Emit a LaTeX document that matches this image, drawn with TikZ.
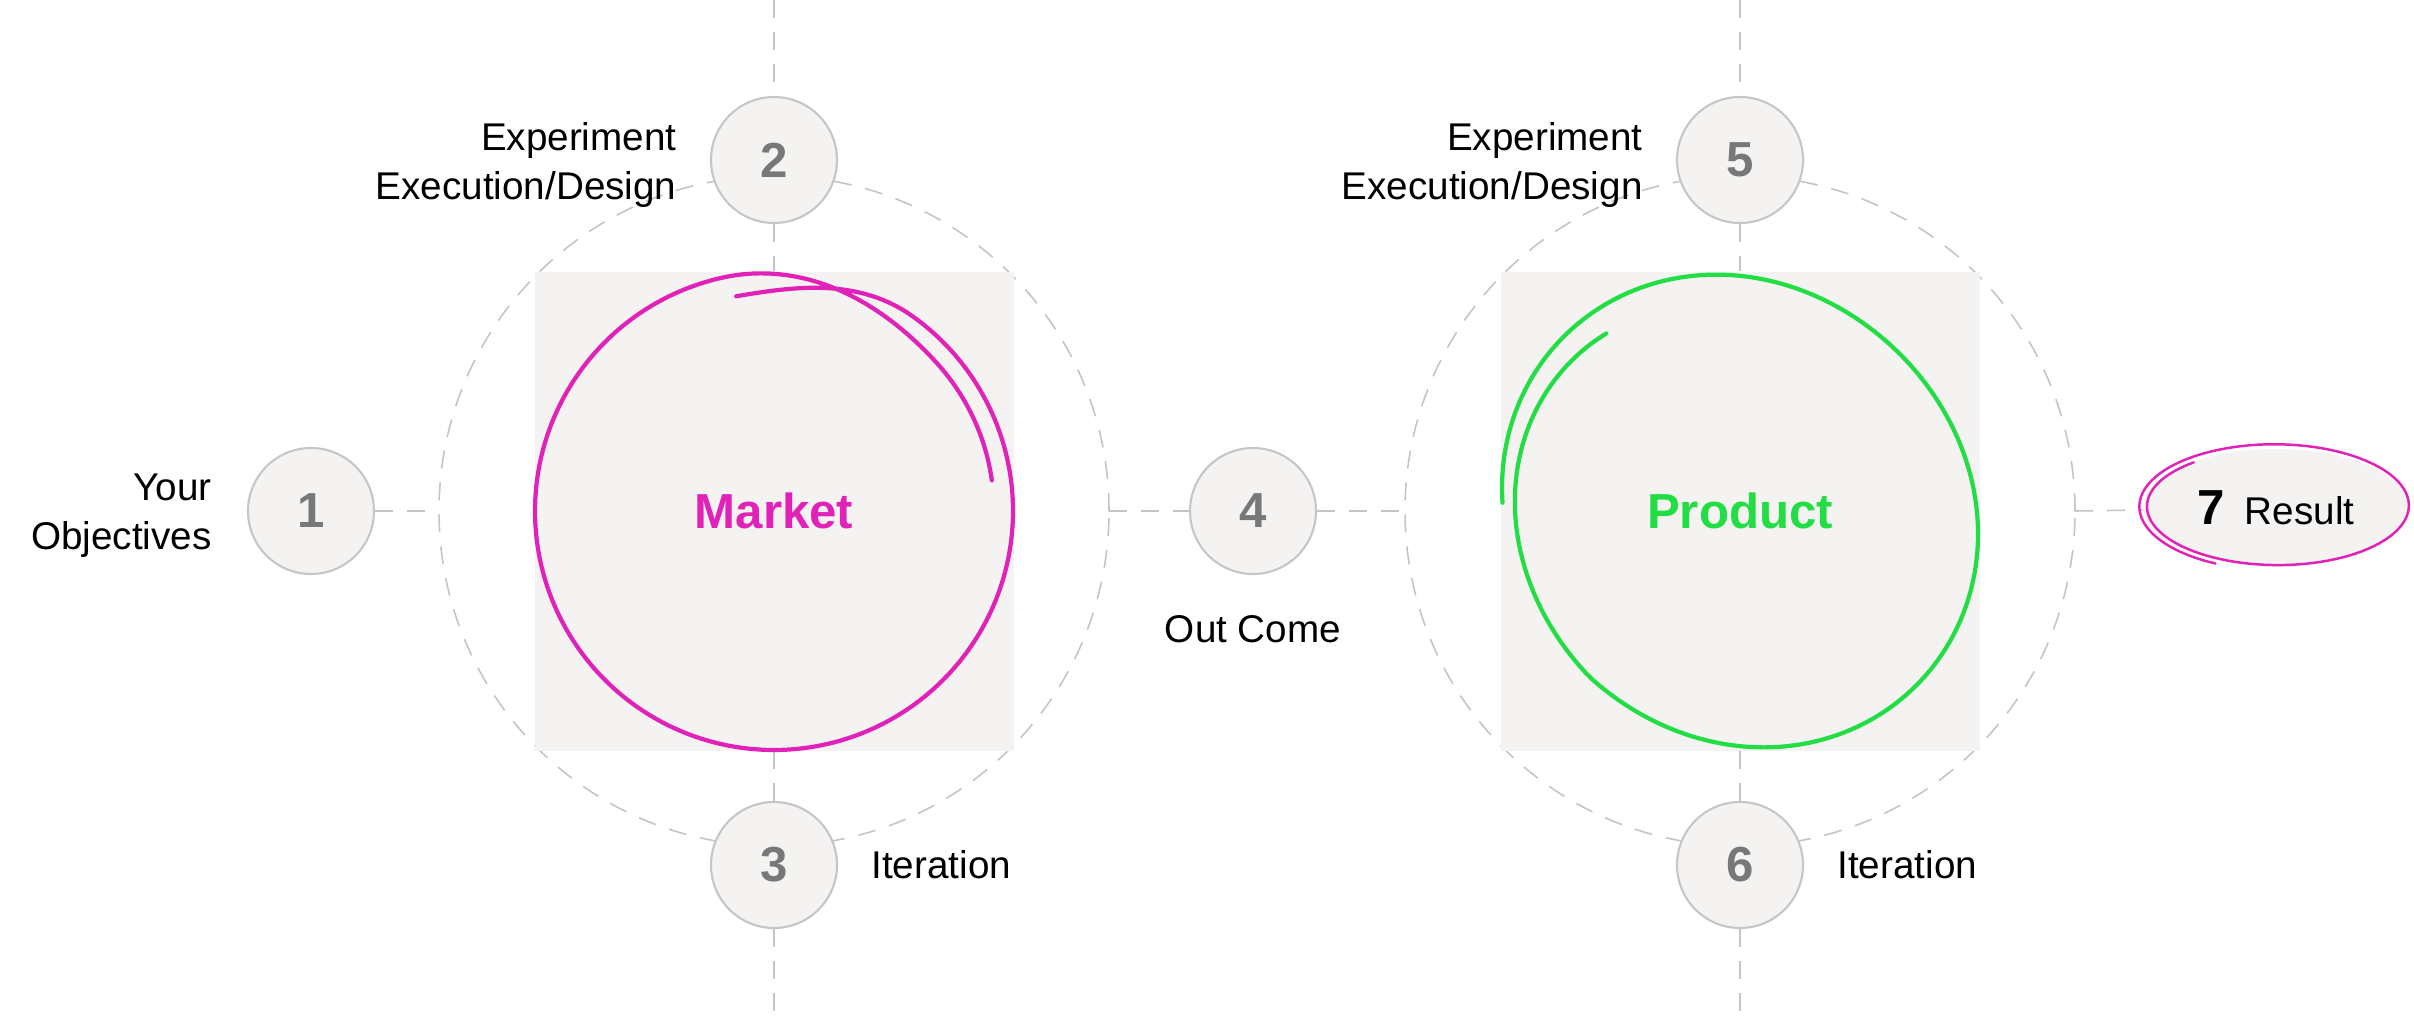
\documentclass[tikz,border=0pt]{standalone}
\usepackage{fontspec}
\setmainfont{Liberation Sans}
\usetikzlibrary{positioning,shapes.geometric}
\definecolor{mag}{HTML}{E022B8}
\definecolor{grn}{HTML}{22DD44}
\definecolor{pane}{HTML}{F4F3F1}
\definecolor{rim}{HTML}{C6C6C6}
\definecolor{numgray}{HTML}{787878}
\definecolor{guidegray}{HTML}{C4C4C4}
\begin{document}
\begin{tikzpicture}[x=0.1mm,y=-0.1mm,
    num/.style={circle,draw=rim,line width=0.6pt,fill=pane,minimum size=12.6mm,inner sep=0pt,text=numgray,font=\fontsize{14}{16}\selectfont\bfseries},
    lbl/.style={font=\fontsize{11}{13.9}\selectfont,align=right},
    guide/.style={draw=guidegray,line width=0.45pt,dash pattern=on 1.8mm off 1.4mm},
    box/.style={fill=pane,minimum size=47.9mm,inner sep=0pt},
    pen/.style={line width=1.2pt,line cap=round,line join=round},
    big/.style={font=\fontsize{14}{16}\selectfont\bfseries},
    declare function={ease(\x)=0.5-0.5*cos(180*min(max(\x,0),1));
                      mktr(\t)=218+21*ease(\t/45)-19*ease((\t-358)/60);
                      pdtr(\t)=236+12*cos(2*(221-\t))-25*max(0,(\t-310)/101);}]
  \useasboundingbox (0,0) rectangle (2414,1024);
  \coordinate (MT) at (774,0);
  \coordinate (MD) at (774,1024);
  \coordinate (MW) at (439,511);
  \coordinate (ME) at (1109,511);
  \coordinate (PT) at (1740,0);
  \coordinate (PD) at (1740,1024);
  \coordinate (PW) at (1405,511);
  \coordinate (PE) at (2075,511);
  \draw[guide] (774,511) circle[radius=33.5mm];
  \draw[guide] (1740,511) circle[radius=33.5mm];

  \node[box] (MB) at (774,511) {};
  \node[box] (PB) at (1740,511) {};
  \node[num] (N1) at (311,511)  {1};
  \node[num] (N2) at (774,160)  {2};
  \node[num] (N3) at (774,865)  {3};
  \node[num] (N4) at (1253,511) {4};
  \node[num] (N5) at (1740,160) {5};
  \node[num] (N6) at (1740,865) {6};
  \node[ellipse,fill=pane,minimum width=26.6mm,minimum height=11.8mm,inner sep=0pt] (R7) at (2276,508)
    {{\fontsize{14}{16}\selectfont\bfseries 7}\hspace{2mm}{\fontsize{11}{13}\selectfont Result}};

  \node[lbl,left=2.3mm of N1,yshift=-0.5mm]  (L1) {Your\\Objectives};
  \node[lbl,left=2.1mm of N2,yshift=-0.5mm]  (L2) {Experiment\\Execution/Design};
  \node[lbl,right=2.1mm of N3] (L3) {Iteration};
  \node[lbl,below=2.8mm of N4] (L4) {Out Come};
  \node[lbl,left=2.1mm of N5,yshift=-0.5mm]  (L5) {Experiment\\Execution/Design};
  \node[lbl,right=2.1mm of N6] (L6) {Iteration};

  \path[guide]
    (MT) edge (N2) (N2) edge (MB) (MB) edge (N3) (N3) edge (MD)
    (PT) edge (N5) (N5) edge (PB) (PB) edge (N6) (N6) edge (PD)
    (N1) edge (MW) (ME) edge (N4) (N4) edge (PW) (PE) edge (R7);

  \draw[pen,mag] plot[domain=0:452,samples=180,smooth,variable=\t]
    ({774+mktr(\t)*cos(100-\t)},{511-mktr(\t)*sin(100-\t)});
  \draw[pen,grn] plot[domain=0:411,samples=150,smooth,variable=\t]
    ({1740+pdtr(\t)*cos(178-\t)},{511-pdtr(\t)*sin(178-\t)});
  \draw[mag,line width=0.7pt,line cap=round] plot[domain=130:604,samples=100,smooth,variable=\t]
    ({2276+(128+10*(\t-130)/474)*cos(\t)},{506-(57+7*(\t-130)/474)*sin(\t)});

  \node[big,text=mag] (MK) at (774,511) {Market};
  \node[big,text=grn] (PR) at (1740,511) {Product};
\end{tikzpicture}
\end{document}
